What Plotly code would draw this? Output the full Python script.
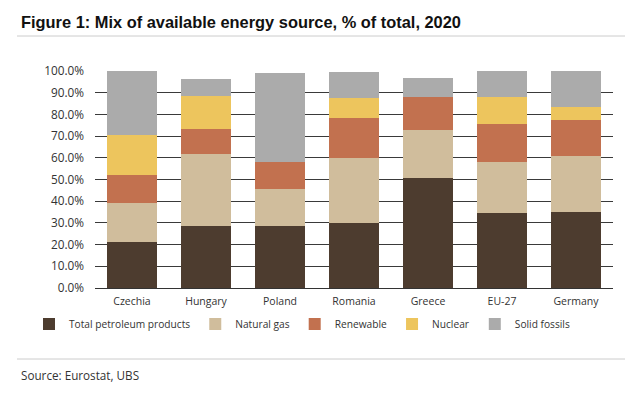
import plotly.graph_objects as go

categories = ["Czechia", "Hungary", "Poland", "Romania", "Greece", "EU-27", "Germany"]
petroleum = [21.3, 28.5, 28.5, 29.8, 50.6, 34.4, 35.1]
natural_gas = [18.0, 33.3, 17.1, 30.0, 22.3, 23.7, 25.8]
renewable = [12.7, 11.4, 12.5, 18.6, 15.3, 17.4, 16.6]
nuclear = [18.6, 15.5, 0.0, 9.0, 0.0, 12.7, 5.9]
solid_fossils = [29.4, 7.6, 40.8, 12.3, 8.4, 11.8, 16.6]

series_names = ["Total petroleum products", "Natural gas", "Renewable", "Nuclear", "Solid fossils"]
series_values = [petroleum, natural_gas, renewable, nuclear, solid_fossils]
colors = ["#4D3C2F", "#D0BD9C", "#C2714F", "#EDC55D", "#ABABAB"]

FONT = "Open Sans, Noto Sans, sans-serif"
TITLE_FONT = "Liberation Sans, Arial, sans-serif"

fig = go.Figure()
for name, vals, col in zip(series_names, series_values, colors):
    fig.add_trace(go.Bar(x=categories, y=vals, name=name, marker=dict(color=col, line=dict(width=0))))

# page body has an 8px margin; work in reference coordinates and shift
OFF = 8
CW, CH = 633 - OFF, 395 - OFF
L, R, T, B = 95 - OFF, 613 - OFF, 71 - OFF, 288 - OFF
W, H = R - L, B - T

def px(x):
    return (x - OFF - L) / W

def py(y):
    return (B - (y - OFF)) / H

fig.update_layout(
    width=CW, height=CH,
    margin=dict(l=L, r=CW - R, t=T, b=CH - B, autoexpand=False),
    barmode="stack", bargap=0.32,
    plot_bgcolor="white", paper_bgcolor="white",
    font=dict(family=FONT, size=10, color="#333333"),
    showlegend=True,
    legend=dict(orientation="h", x=px(29), y=py(324), xanchor="left", yanchor="middle",
                font=dict(family=FONT, size=10.2, color="#333333"), itemwidth=30, traceorder="normal",
                bgcolor="rgba(0,0,0,0)"),
    xaxis=dict(showgrid=False, showline=True, linecolor="#333333", linewidth=1, automargin=False,
               ticks="", ticklabelstandoff=3, tickfont=dict(size=10.5, color="#333333"), fixedrange=True),
    yaxis=dict(range=[0, 100], dtick=10, tickformat=".1f", ticksuffix="%", automargin=False,
               showgrid=True, gridcolor="#3A3A3A", gridwidth=1, zeroline=False,
               showline=False, ticks="", ticklabelstandoff=10,
               tickfont=dict(size=11.8, color="#333333")),
    annotations=[
        dict(text="<b>Figure 1: Mix of available energy source, % of total, 2020</b>",
             xref="paper", yref="paper", x=px(19), y=py(22), xanchor="left", yanchor="middle",
             showarrow=False, font=dict(family=TITLE_FONT, size=16.4, color="#111111")),
        dict(text="Source: Eurostat, UBS",
             xref="paper", yref="paper", x=px(19), y=py(375), xanchor="left", yanchor="middle",
             showarrow=False, font=dict(family=FONT, size=11.7, color="#333333")),
    ],
    shapes=[
        dict(type="line", xref="paper", yref="paper", x0=px(17), x1=px(633), y0=py(36), y1=py(36),
             line=dict(color="#CCCCCC", width=1)),
        dict(type="line", xref="paper", yref="paper", x0=px(17), x1=px(633), y0=py(359), y1=py(359),
             line=dict(color="#CCCCCC", width=1)),
    ],
)

fig.write_html("out.html")
